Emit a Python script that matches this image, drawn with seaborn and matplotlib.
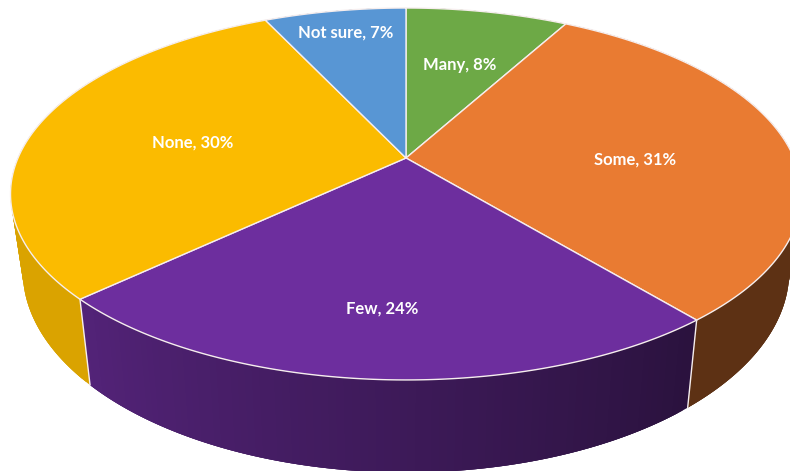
import numpy as np
import matplotlib
matplotlib.use("Agg")
import matplotlib.pyplot as plt
import seaborn as sns

# Survey shares, clockwise from twelve o'clock
categories = ["Many", "Some", "Few", "None", "Not sure"]
shares = [8, 31, 24, 30, 7]

# Slice colours
slice_hex = ["#6DA946", "#E97B32", "#6D2E9E", "#FBBB00", "#5896D4"]

# Side-wall brightness at the clockwise start and end of each slice
wall_shade = [(0.6, 0.6), (0.40, 0.40), (0.39, 0.76), (0.87, 0.87), (0.6, 0.6)]

# Label placement: radial fraction and pixel nudge
label_radius = [0.62, 0.60, 0.72, 0.57, 0.85]
label_nudge = [(0, 3), (0, 12), (-3, 1), (0, 3), (2, 2)]

# Perspective disc geometry in pixels
CX = 406
TOP = dict(a=388, b=179, cy=158)
BOTTOM = dict(a=376, b=194, cy=232)
TILT = 0.1935
EDGE = "#f6eeee"

sns.set_theme(style="white")
palette = sns.color_palette(slice_hex)


def project(theta, r, disc):
    """Map a clockwise angle from the top and a radius onto the tilted disc."""
    x = r * np.sin(theta)
    y = r * np.cos(theta)
    w = 1 + TILT * y
    return CX + disc["a"] * x / w, disc["cy"] - disc["b"] * y / w


fig = plt.figure(figsize=(7.9, 4.71), dpi=100)
ax = fig.add_axes([0, 0, 1, 1])
ax.set_xlim(0, 790)
ax.set_ylim(471, 0)
ax.axis("off")

bounds = np.concatenate([[0], np.cumsum(shares)]) / np.sum(shares) * 2 * np.pi

# Side wall: overlapping shaded strips between the upper and lower rims
for i, colour in enumerate(palette):
    start, end = bounds[i], bounds[i + 1]
    steps = max(8, int((end - start) * 60))
    ts = np.linspace(start, end, steps + 1)
    shades = np.linspace(*wall_shade[i], steps)
    for k, s in enumerate(shades):
        # Each strip runs on under its neighbour so no seams show through
        span = np.linspace(ts[k], ts[min(k + 3, steps)], 6)
        xa, ya = project(span, 1, TOP)
        xb, yb = project(span[::-1], 1, BOTTOM)
        shade = tuple(c * s for c in colour)
        ax.fill(np.r_[xa, xb], np.r_[ya, yb], color=shade, lw=0, zorder=1)

# Pale seams on the front wall where slices meet
for b in bounds[2:4]:
    xa, ya = project(b, 1, TOP)
    xb, yb = project(b, 1, BOTTOM)
    ax.plot([xa, xb], [ya, yb], color=EDGE, lw=1.0, zorder=2)

# Top face of each slice
for i, colour in enumerate(palette):
    ts = np.linspace(bounds[i], bounds[i + 1], 160)
    xs, ys = project(ts, 1, TOP)
    ax.fill(np.r_[CX, xs], np.r_[TOP["cy"], ys], facecolor=colour,
            edgecolor=EDGE, lw=1.0, joinstyle="round", zorder=3)

# Data labels
for i, name in enumerate(categories):
    mid = (bounds[i] + bounds[i + 1]) / 2
    x, y = project(mid, label_radius[i], TOP)
    dx, dy = label_nudge[i]
    ax.text(x + dx, y + dy, f"{name}, {shares[i]}%", color="white",
            family="Lato", weight="bold", fontsize=12.0,
            ha="center", va="center", zorder=4)

fig.savefig("out.png", dpi=100, facecolor="white")
